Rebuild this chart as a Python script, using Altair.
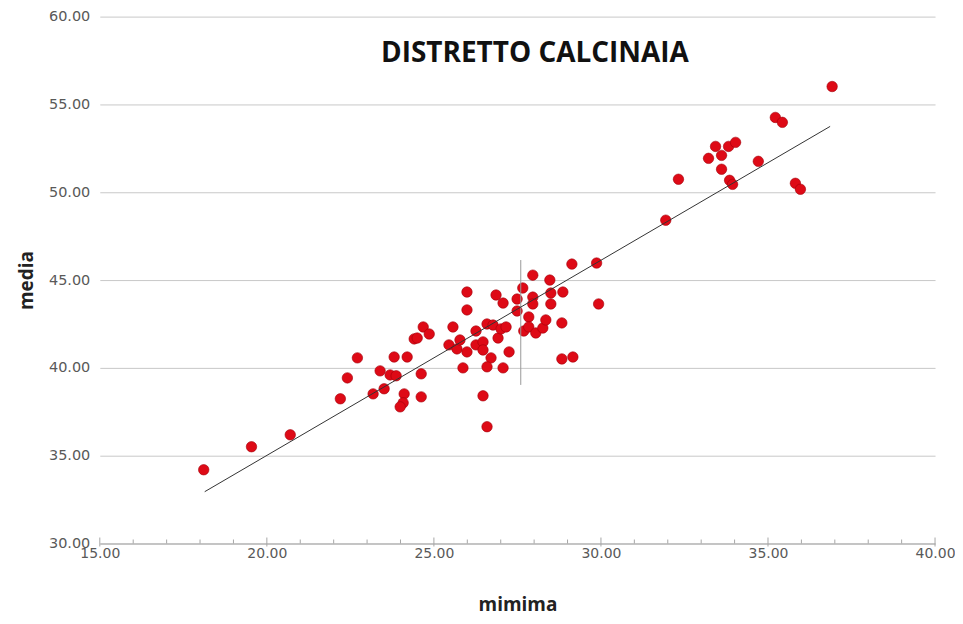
import altair as alt
import pandas as pd

# observed points (mimima, media)
mimima = [18.11, 19.54, 20.70, 22.20, 22.41, 22.71, 23.18, 23.39, 23.51, 23.69,
          23.87, 23.81, 24.20, 24.11, 24.08, 23.99, 24.41, 24.50, 24.62, 24.62,
          24.68, 24.86, 25.57, 25.99, 25.99, 25.45, 25.69, 25.78, 25.99, 25.87,
          26.26, 26.26, 26.47, 26.47, 26.59, 26.71, 26.59, 26.47, 26.59, 26.86,
          26.77, 26.92, 27.01, 27.16, 27.07, 27.07, 27.25, 27.49, 27.49, 27.66,
          27.69, 27.84, 27.84, 27.96, 27.96, 27.96, 28.05, 28.26, 28.35, 28.47,
          28.50, 28.50, 28.86, 28.83, 28.83, 29.16, 29.13, 29.87, 29.93, 31.94,
          32.32, 33.22, 33.43, 33.61, 33.61, 33.82, 34.03, 33.85, 33.94, 34.71,
          35.22, 35.43, 35.82, 35.97, 36.92]
media = [34.20, 35.51, 36.19, 38.24, 39.43, 40.57, 38.52, 39.83, 38.81, 39.60,
         39.55, 40.62, 40.62, 38.52, 38.01, 37.78, 41.65, 41.70, 39.66, 38.35,
         42.33, 41.93, 42.33, 44.32, 43.30, 41.31, 41.08, 41.59, 40.91, 40.00,
         42.10, 41.31, 41.48, 41.02, 42.50, 40.57, 40.06, 38.41, 36.65, 44.15,
         42.44, 41.70, 42.22, 42.33, 43.69, 40.00, 40.91, 43.92, 43.24, 44.55,
         42.10, 42.90, 42.33, 45.28, 44.03, 43.64, 41.99, 42.27, 42.73, 45.00,
         44.26, 43.64, 44.32, 42.56, 40.51, 40.62, 45.91, 45.97, 43.64, 48.41,
         50.74, 51.93, 52.61, 52.10, 51.31, 52.61, 52.84, 50.68, 50.45, 51.76,
         54.26, 53.98, 50.51, 50.17, 56.02]

# fitted line endpoints
fit_x = [18.14, 36.86]
fit_y = [32.95, 53.75]

# short vertical marker
marker_x = [27.60]
marker_y = [39.03]
marker_y2 = [46.14]

x_major = [15, 20, 25, 30, 35, 40]
x_minor = [v for v in range(15, 41) if v % 5 != 0]
y_ticks = [30, 35, 40, 45, 50, 55, 60]

title_text = "DISTRETTO CALCINAIA"

W, H = 837, 528
FONT = "Open Sans"
LABEL_FONT = "DejaVu Sans"

pts = pd.DataFrame({"mimima": mimima, "media": media})
fit = pd.DataFrame({"mimima": fit_x, "media": fit_y})
mk = pd.DataFrame({"mimima": marker_x, "y": marker_y, "y2": marker_y2})

xscale = alt.Scale(domain=[15, 40], nice=False, zero=False)
yscale = alt.Scale(domain=[30, 60], nice=False, zero=False)

xaxis = alt.Axis(values=x_major, format=".2f", grid=False, ticks=False,
                 domainColor="#a6a6a6", domainWidth=1, labelFlush=False,
                 labelFont=LABEL_FONT, labelFontSize=14, labelColor="#595959",
                 labelPadding=3, title="mimima", titleFont=FONT, titleFontSize=19,
                 titleFontWeight="bold", titleColor="#222222", titlePadding=35)
yaxis = alt.Axis(values=y_ticks, format=".2f", grid=True, gridColor="#c8c8c8",
                 gridWidth=1, domain=False, ticks=False, labelFlush=False,
                 labelFont=LABEL_FONT, labelFontSize=14.5, labelColor="#595959",
                 labelPadding=10, title="media", titleFont=FONT, titleFontSize=19,
                 titleFontWeight="bold", titleColor="#222222", titlePadding=12)

base_points = alt.Chart(pts).mark_circle(
    size=110, color="#de0a16", opacity=1, stroke="#a3000a", strokeWidth=0.6
).encode(
    x=alt.X("mimima:Q", scale=xscale, axis=xaxis),
    y=alt.Y("media:Q", scale=yscale, axis=yaxis),
)

fit_line = alt.Chart(fit).mark_line(color="#333333", strokeWidth=1).encode(
    x=alt.X("mimima:Q", scale=xscale),
    y=alt.Y("media:Q", scale=yscale),
)

marker = alt.Chart(mk).mark_rule(color="#9a9a9a", strokeWidth=1).encode(
    x=alt.X("mimima:Q", scale=xscale),
    y=alt.Y("y:Q", scale=yscale),
    y2="y2:Q",
)

major_ticks = alt.Chart(pd.DataFrame({"t": x_major})).mark_rule(
    color="#a6a6a6", strokeWidth=1
).encode(
    x=alt.X("t:Q", scale=xscale),
    y=alt.value(H + 3),
    y2=alt.value(H - 6),
)

minor_ticks = alt.Chart(pd.DataFrame({"t": x_minor})).mark_rule(
    color="#a6a6a6", strokeWidth=1
).encode(
    x=alt.X("t:Q", scale=xscale),
    y=alt.value(H),
    y2=alt.value(H - 4),
)

title = alt.Chart(pd.DataFrame({"t": [title_text]})).mark_text(
    font=FONT, fontSize=28, fontWeight="bold", color="#111111",
    align="center", baseline="middle"
).encode(
    x=alt.value(436),
    y=alt.value(37),
    text="t:N",
)

chart = alt.layer(
    base_points, marker, fit_line, major_ticks, minor_ticks, title
).properties(
    width=W, height=H,
    autosize=alt.AutoSizeParams(type="none"),
    padding={"left": 92, "top": 8, "right": 20, "bottom": 72},
).configure(background="white").configure_view(stroke=None)

chart.save("out.html", embed_options={"renderer": "svg", "actions": False})
